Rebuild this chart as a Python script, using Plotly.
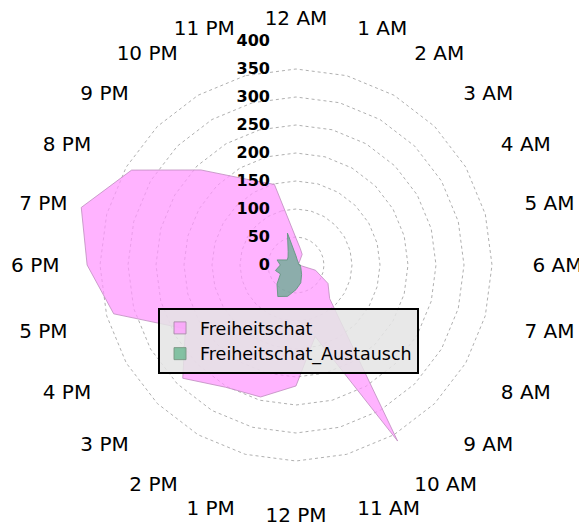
import plotly.graph_objects as go

hours = ["12 AM", "1 AM", "2 AM", "3 AM", "4 AM", "5 AM", "6 AM", "7 AM",
         "8 AM", "9 AM", "10 AM", "11 AM", "12 PM", "1 PM", "2 PM", "3 PM",
         "4 PM", "5 PM", "6 PM", "7 PM", "8 PM", "9 PM", "10 PM", "11 PM"]

freiheitschat = [48, 30, 22, 9, 6, 5, 5, 36, 66, 85, 363, 132,
                 216, 244, 252, 286, 228, 337, 373, 397, 339, 240, 177, 149]

freiheitschat_austausch = [16, 9, 7, 6, 5, 5, 8, 8, 10, 13, 20, 33,
                           44, 58, 65, 48, 32, 38, 28, 35, 18, 20, 28, 59]

radial_ticks = [0, 50, 100, 150, 200, 250, 300, 350, 400]

PINK_FILL = "rgba(255,150,255,0.72)"
PINK_LINE = "rgba(190,140,190,0.8)"
GREEN_FILL = "rgba(70,170,120,0.62)"
GREEN_LINE = "rgba(100,150,130,0.9)"

fig = go.Figure()
fig.add_trace(go.Scatterpolar(
    r=freiheitschat + freiheitschat[:1],
    theta=hours + hours[:1],
    name="Freiheitschat",
    mode="lines",
    fill="toself",
    fillcolor=PINK_FILL,
    line=dict(color=PINK_LINE, width=1),
    showlegend=False,
))
fig.add_trace(go.Scatterpolar(
    r=freiheitschat_austausch + freiheitschat_austausch[:1],
    theta=hours + hours[:1],
    name="Freiheitschat_Austausch",
    mode="lines",
    fill="toself",
    fillcolor=GREEN_FILL,
    line=dict(color=GREEN_LINE, width=1),
    showlegend=False,
))
# legend entries with square swatches
fig.add_trace(go.Scatterpolar(
    r=[None], theta=[None], name="Freiheitschat", mode="markers",
    marker=dict(symbol="square", size=12, color=PINK_FILL,
                line=dict(color="rgba(170,140,170,0.9)", width=1)),
))
fig.add_trace(go.Scatterpolar(
    r=[None], theta=[None], name="Freiheitschat_Austausch", mode="markers",
    marker=dict(symbol="square", size=12, color=GREEN_FILL,
                line=dict(color="rgba(120,150,130,0.9)", width=1)),
))

fig.update_layout(
    width=587, height=529,
    margin=dict(l=64, r=75, t=33, b=48),
    paper_bgcolor="white",
    plot_bgcolor="white",
    font=dict(family="DejaVu Sans", color="black"),
    polar=dict(
        bgcolor="white",
        gridshape="linear",
        radialaxis=dict(
            range=[0, 400],
            tickvals=radial_ticks,
            angle=90,
            tickangle=90,
            side="counterclockwise",
            showline=False,
            ticks="outside",
            ticklen=20,
            tickcolor="rgba(0,0,0,0)",
            gridcolor="#b0b0b0",
            griddash="dot",
            gridwidth=1,
            tickfont=dict(family="DejaVu Sans", size=16, color="black", weight="bold"),
        ),
        angularaxis=dict(
            direction="clockwise",
            rotation=90,
            type="category",
            categoryarray=hours,
            showgrid=False,
            showline=False,
            ticks="outside",
            ticklen=8,
            tickcolor="rgba(0,0,0,0)",
            tickfont=dict(family="DejaVu Sans", size=20, color="black"),
        ),
    ),
    showlegend=True,
    legend=dict(
        x=0.192, y=0.404, xanchor="left", yanchor="top",
        bgcolor="rgba(228,228,228,0.85)",
        bordercolor="black", borderwidth=2,
        font=dict(family="DejaVu Sans", size=17.5, color="black"),
    ),
)

fig.write_html("out.html")
